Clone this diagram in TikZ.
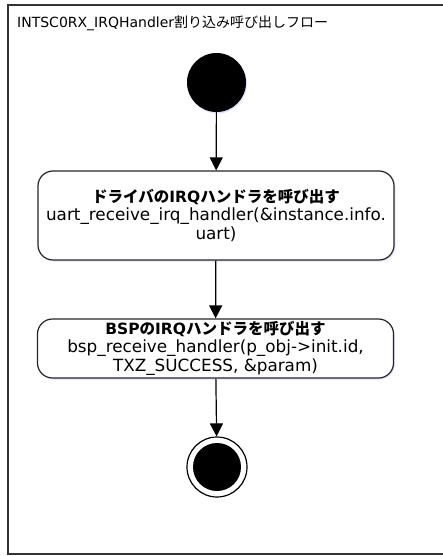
\documentclass[tikz,border=0pt]{standalone}
\usepackage{fontspec}
\setmainfont{DejaVu Sans}
\newfontfamily\jp{Noto Sans CJK JP}
\usetikzlibrary{arrows.meta,shadows}
\newcommand{\headfont}{\fontsize{15.5}{19}\selectfont\bfseries}
\begin{document}
\begin{tikzpicture}[x=1pt,y=-1pt,
  every node/.style={font=\fontsize{16.8}{19}\selectfont},
  actbox/.style={draw=black!85, line width=1.2pt, rounded corners=15pt, fill=white,
    align=center, minimum width=356pt, inner sep=0pt,
    drop shadow={shadow xshift=1.5pt, shadow yshift=-1.5pt, fill=blue!25!white, opacity=0.45}},
  flow/.style={-{Triangle[length=13pt,width=13pt]}, line width=1.2pt}]
\useasboundingbox (0,0) rectangle (443,556);
\fill[white] (0,0) rectangle (443,556);
\draw[line width=1.5pt, black!80] (8,5) rectangle (452,554);
\node[anchor=base west, inner sep=0pt, font=\fontsize{14}{17}\selectfont] (title) at (17,28) {INTSC0RX\_IRQHandler{\jp 割り込み呼び出しフロー}};
\node[circle, fill=black, minimum size=59pt, inner sep=0pt,
  drop shadow={shadow xshift=1pt, shadow yshift=-1.5pt, fill=blue!25!white, opacity=0.45}] (start) at (216.5,82.5) {};
\node[actbox, minimum height=89pt] (b1) at (216,215.5)
  {{\headfont{\jp ドライバの}IRQ{\jp ハンドラを呼び出す}}\\[-1pt]uart\_receive\_irq\_handler(\&instance.info.\\uart)};
\node[actbox, minimum height=59pt] (b2) at (215.5,348.5)
  {{\headfont BSP{\jp の}IRQ{\jp ハンドラを呼び出す}}\\[-1pt]bsp\_receive\_handler(p\_obj->init.id,\\TXZ\_SUCCESS, \&param)};
\node[circle, draw=black, line width=1.2pt, fill=white, minimum size=60pt, inner sep=0pt] (end) at (217,467) {};
\node[circle, fill=black, minimum size=48pt, inner sep=0pt] (endin) at (end) {};
\draw[flow] (start) -- (b1);
\draw[flow] (b1) -- (b2);
\draw[flow] (b2) -- (end);
\end{tikzpicture}
\end{document}
